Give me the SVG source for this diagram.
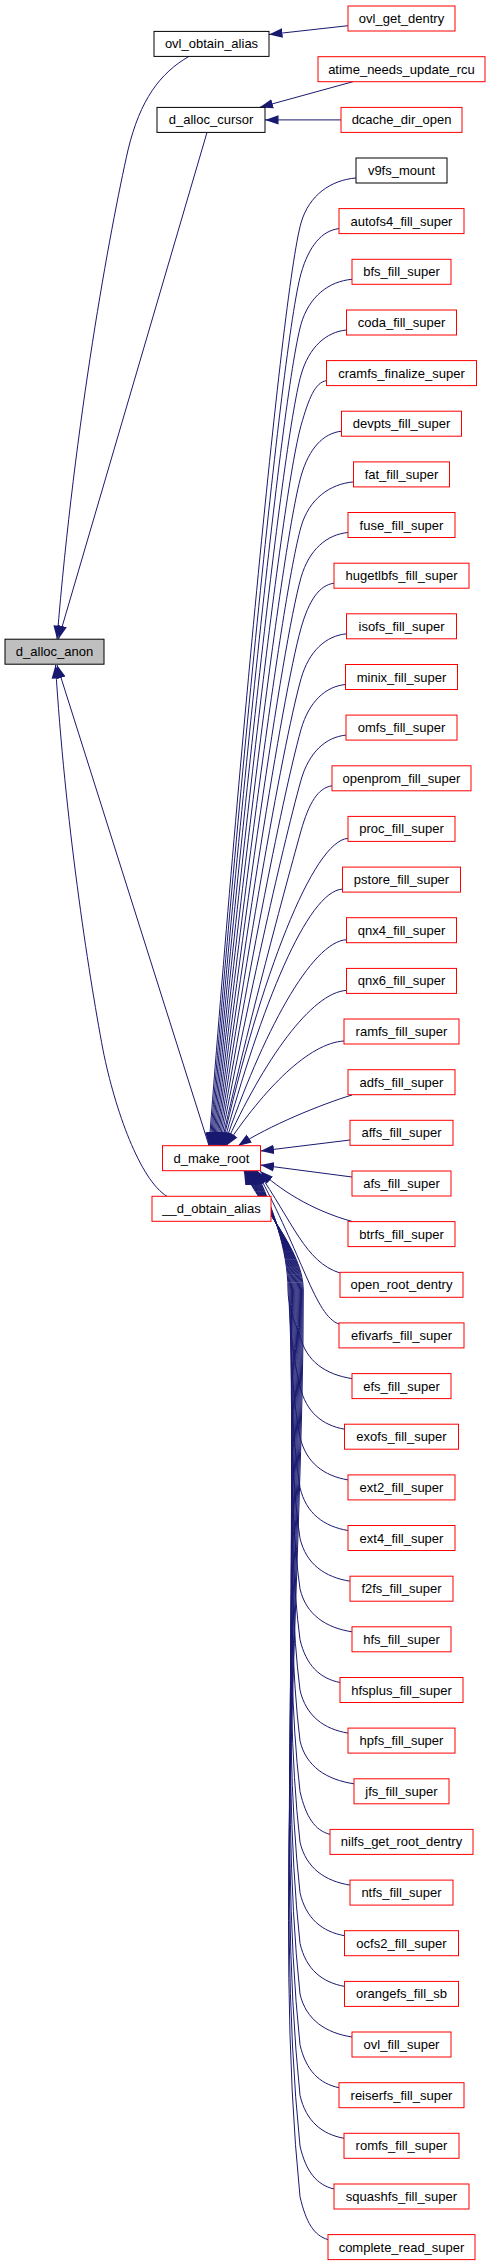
<svg xmlns="http://www.w3.org/2000/svg" width="491" height="2267" viewBox="0 0 491 2267">
<style>
.n rect{fill:#ffffff;stroke:#ff0000;stroke-width:1}
.n.b rect{stroke:#000000}
.n.g rect{fill:#bfbfbf;stroke:#000000}
.n text{font-family:"Liberation Sans",Arial,Helvetica,sans-serif;font-size:13px;fill:#000000;text-anchor:middle}
#edges path{fill:none;stroke:#191970;stroke-width:1;marker-end:url(#ah)}
</style>
<defs>
<marker id="ah" markerUnits="userSpaceOnUse" markerWidth="14" markerHeight="10" viewBox="0 0 14 10" refX="13.5" refY="5" orient="auto"><path d="M0,0.3 L13.5,5 L0,9.7 z" fill="#191970"/></marker>
</defs>
<rect width="491" height="2267" fill="#ffffff"/>
<g id="edges">
<path d="M348,25.7 L269,34.5"/>
<path d="M353,81.7 L259.5,107.4"/>
<path d="M341,119.9 L265,119.9"/>
<path d="M189,56.4 C160,73 140,100 128,150 C110,230 75,420 57,639"/>
<path d="M207,132.4 L58.5,639"/>
<path d="M209,1145.7 L57,665"/>
<path d="M167,1196.3 C140,1180 115,1110 103,1050 C88,970 65,820 55.5,665"/>
<path d="M356,178 C331,180 309,195 301,223 C281,295 233.5,823 209,1146"/>
<path d="M339,228.6 C322,230.6 309,245.6 301,273.6 C281,345.6 234.5,840.7 210,1146"/>
<path d="M352,279.3 C329,281.3 309,296.3 301,324.3 C281,396.3 235.5,858.4 211,1146"/>
<path d="M346.5,330 C326,332 309,347 301,375 C281,447 236.5,876.1 212,1146"/>
<path d="M326.5,380.6 C315,382.6 309,397.6 301,425.6 C281,497.6 237.5,893.9 213,1146"/>
<path d="M341.5,431.2 C323.3,433.2 309,448.2 301,476.2 C281,548.2 238.5,911.6 214,1146"/>
<path d="M353.5,481.9 C329.9,483.9 309,498.9 301,526.9 C281,598.9 239.5,929.3 215,1146"/>
<path d="M348,532.5 C326.9,534.5 309,549.5 301,577.5 C281,649.5 240.5,947 216,1146"/>
<path d="M334,583.2 C319.2,585.2 309,600.2 301,628.2 C281,700.2 241.5,964.8 217,1146"/>
<path d="M346.5,633.8 C326,635.8 309,650.8 301,678.8 C281,750.8 242.5,982.5 218,1146"/>
<path d="M345.5,684.5 C325.5,686.5 309,701.5 301,729.5 C281,801.5 243.5,1000.2 219,1146"/>
<path d="M346,735.1 C325.8,737.1 309,752.1 301,780.1 C281,852.1 244.5,1018 220,1146"/>
<path d="M332,785.8 C318,787.8 309,802.8 301,830.8 C281,902.8 245.5,1035.7 221,1146"/>
<path d="M348,838.4 C313,840.4 260.5,976.8 222,1146"/>
<path d="M342.5,889.1 C307.5,891.1 261.5,1004.7 223,1146"/>
<path d="M346.5,939.7 C311.5,941.7 262.5,1032.6 224,1146"/>
<path d="M346.5,990.4 C311.5,992.4 263.5,1060.4 225,1146"/>
<path d="M344,1041 C309,1043 264.5,1088.3 226,1146"/>
<path d="M352,1095 C322,1104 268,1126 238,1146"/>
<path d="M350,1140 L260.5,1151"/>
<path d="M352,1177 L260.5,1165"/>
<path d="M353,1221.7 C310,1210 278,1188 260,1171"/>
<path d="M340,1273 C305,1262 293,1222 257.3,1171"/>
<path d="M339,1324 C315,1316 302.6,1255 256.6,1171"/>
<path d="M352,1378.6 C326,1374.6 306,1361.6 300,1335.6 C293.9,1321.9 288,1303.7 288,1290 C288,1250 271.9,1206 255.9,1171"/>
<path d="M344.5,1429.2 C322.2,1425.2 306,1412.2 300,1386.2 C292.6,1357.4 288.9,1318.9 288.9,1290 C288.9,1250 271.2,1206 255.2,1171"/>
<path d="M348,1479.9 C324,1475.9 306,1462.9 300,1436.9 C291.3,1392.8 289.8,1334.1 289.8,1290 C289.8,1250 270.5,1206 254.5,1171"/>
<path d="M348,1530.5 C324,1526.5 306,1513.5 300,1487.5 C290.1,1428.3 290.7,1349.3 290.7,1290 C290.7,1250 269.8,1206 253.8,1171"/>
<path d="M350,1581.2 C325,1577.2 306,1564.2 300,1538.2 C288.8,1463.7 291.6,1364.5 291.6,1290 C291.6,1250 269.1,1206 253.1,1171"/>
<path d="M352,1631.8 C326,1627.8 306,1614.8 300,1588.8 C287.5,1499.2 292.5,1379.7 292.5,1290 C292.5,1250 268.4,1206 252.4,1171"/>
<path d="M340,1682.5 C320,1678.5 306,1665.5 300,1639.5 C286.3,1534.6 293.4,1394.8 293.4,1290 C293.4,1250 267.7,1206 251.7,1171"/>
<path d="M348,1733.1 C324,1729.1 306,1716.1 300,1690.1 C285,1570.1 294.3,1410 294.3,1290 C294.3,1250 267,1206 251,1171"/>
<path d="M354,1783.8 C327,1779.8 306,1766.8 300,1740.8 C283.7,1605.6 295.2,1425.2 295.2,1290 C295.2,1250 266.3,1206 250.3,1171"/>
<path d="M330,1834.4 C315,1830.4 306,1817.4 300,1791.4 C282.5,1641 296.1,1440.4 296.1,1290 C296.1,1250 265.6,1206 249.6,1171"/>
<path d="M350,1885.1 C325,1881.1 306,1868.1 300,1842.1 C281.2,1676.5 297,1455.6 297,1290 C297,1250 264.9,1206 248.9,1171"/>
<path d="M344.5,1935.7 C322.2,1931.7 306,1918.7 300,1892.7 C279.9,1711.9 297.9,1470.8 297.9,1290 C297.9,1250 264.2,1206 248.2,1171"/>
<path d="M344.5,1986.4 C322.2,1982.4 306,1969.4 300,1943.4 C278.7,1747.4 298.8,1486 298.8,1290 C298.8,1250 263.5,1206 247.5,1171"/>
<path d="M352,2037 C326,2033 306,2020 300,1994 C277.4,1782.8 299.7,1501.2 299.7,1290 C299.7,1250 262.8,1206 246.8,1171"/>
<path d="M339,2087.7 C319.5,2083.7 306,2070.7 300,2044.7 C276.1,1818.3 300.6,1516.4 300.6,1290 C300.6,1250 262.1,1206 246.1,1171"/>
<path d="M344,2138.3 C322,2134.3 306,2121.3 300,2095.3 C274.9,1853.7 301.5,1531.6 301.5,1290 C301.5,1250 261.4,1206 245.4,1171"/>
<path d="M334,2189 C317,2185 306,2172 300,2146 C273.6,1889.2 302.4,1546.8 302.4,1290 C302.4,1250 260.7,1206 244.7,1171"/>
<path d="M328,2239.6 C314,2235.6 306,2222.6 300,2196.6 C272.3,1924.6 303.3,1562 303.3,1290 C303.3,1250 260,1206 244,1171"/>
</g>
<g id="d_alloc_anon" class="n g"><rect x="5" y="639.2" width="99" height="25"/><text x="54.5" y="656.2">d_alloc_anon</text></g>
<g id="ovl_obtain_alias" class="n b"><rect x="154" y="31.4" width="115" height="25"/><text x="211.5" y="48.4">ovl_obtain_alias</text></g>
<g id="d_alloc_cursor" class="n b"><rect x="157" y="107.4" width="108" height="25"/><text x="211" y="124.4">d_alloc_cursor</text></g>
<g id="d_make_root" class="n"><rect x="162.5" y="1145.7" width="98" height="25"/><text x="211.5" y="1162.7">d_make_root</text></g>
<g id="__d_obtain_alias" class="n"><rect x="152" y="1196.3" width="119" height="25"/><text x="211.5" y="1213.3">__d_obtain_alias</text></g>
<g id="ovl_get_dentry" class="n"><rect x="348" y="6" width="107" height="25"/><text x="401.5" y="23">ovl_get_dentry</text></g>
<g id="atime_needs_update_rcu" class="n"><rect x="318" y="56.7" width="167" height="25"/><text x="401.5" y="73.7">atime_needs_update_rcu</text></g>
<g id="dcache_dir_open" class="n"><rect x="341" y="107.4" width="121" height="25"/><text x="401.5" y="124.4">dcache_dir_open</text></g>
<g id="v9fs_mount" class="n b"><rect x="356" y="158" width="91" height="25"/><text x="401.5" y="175">v9fs_mount</text></g>
<g id="autofs4_fill_super" class="n"><rect x="339" y="208.6" width="125" height="25"/><text x="401.5" y="225.6">autofs4_fill_super</text></g>
<g id="bfs_fill_super" class="n"><rect x="352" y="259.3" width="99" height="25"/><text x="401.5" y="276.3">bfs_fill_super</text></g>
<g id="coda_fill_super" class="n"><rect x="346.5" y="310" width="110" height="25"/><text x="401.5" y="327">coda_fill_super</text></g>
<g id="cramfs_finalize_super" class="n"><rect x="326.5" y="360.6" width="150" height="25"/><text x="401.5" y="377.6">cramfs_finalize_super</text></g>
<g id="devpts_fill_super" class="n"><rect x="341.5" y="411.2" width="120" height="25"/><text x="401.5" y="428.2">devpts_fill_super</text></g>
<g id="fat_fill_super" class="n"><rect x="353.5" y="461.9" width="96" height="25"/><text x="401.5" y="478.9">fat_fill_super</text></g>
<g id="fuse_fill_super" class="n"><rect x="348" y="512.5" width="107" height="25"/><text x="401.5" y="529.5">fuse_fill_super</text></g>
<g id="hugetlbfs_fill_super" class="n"><rect x="334" y="563.2" width="135" height="25"/><text x="401.5" y="580.2">hugetlbfs_fill_super</text></g>
<g id="isofs_fill_super" class="n"><rect x="346.5" y="613.8" width="110" height="25"/><text x="401.5" y="630.8">isofs_fill_super</text></g>
<g id="minix_fill_super" class="n"><rect x="345.5" y="664.5" width="112" height="25"/><text x="401.5" y="681.5">minix_fill_super</text></g>
<g id="omfs_fill_super" class="n"><rect x="346" y="715.1" width="111" height="25"/><text x="401.5" y="732.1">omfs_fill_super</text></g>
<g id="openprom_fill_super" class="n"><rect x="332" y="765.8" width="139" height="25"/><text x="401.5" y="782.8">openprom_fill_super</text></g>
<g id="proc_fill_super" class="n"><rect x="348" y="816.4" width="107" height="25"/><text x="401.5" y="833.4">proc_fill_super</text></g>
<g id="pstore_fill_super" class="n"><rect x="342.5" y="867.1" width="118" height="25"/><text x="401.5" y="884.1">pstore_fill_super</text></g>
<g id="qnx4_fill_super" class="n"><rect x="346.5" y="917.7" width="110" height="25"/><text x="401.5" y="934.7">qnx4_fill_super</text></g>
<g id="qnx6_fill_super" class="n"><rect x="346.5" y="968.4" width="110" height="25"/><text x="401.5" y="985.4">qnx6_fill_super</text></g>
<g id="ramfs_fill_super" class="n"><rect x="344" y="1019" width="115" height="25"/><text x="401.5" y="1036">ramfs_fill_super</text></g>
<g id="adfs_fill_super" class="n"><rect x="348" y="1069.7" width="107" height="25"/><text x="401.5" y="1086.7">adfs_fill_super</text></g>
<g id="affs_fill_super" class="n"><rect x="350" y="1120.3" width="103" height="25"/><text x="401.5" y="1137.3">affs_fill_super</text></g>
<g id="afs_fill_super" class="n"><rect x="352" y="1171" width="99" height="25"/><text x="401.5" y="1188">afs_fill_super</text></g>
<g id="btrfs_fill_super" class="n"><rect x="348" y="1221.6" width="107" height="25"/><text x="401.5" y="1238.6">btrfs_fill_super</text></g>
<g id="open_root_dentry" class="n"><rect x="340" y="1272.3" width="123" height="25"/><text x="401.5" y="1289.3">open_root_dentry</text></g>
<g id="efivarfs_fill_super" class="n"><rect x="339" y="1322.9" width="125" height="25"/><text x="401.5" y="1339.9">efivarfs_fill_super</text></g>
<g id="efs_fill_super" class="n"><rect x="352" y="1373.6" width="99" height="25"/><text x="401.5" y="1390.6">efs_fill_super</text></g>
<g id="exofs_fill_super" class="n"><rect x="344.5" y="1424.2" width="114" height="25"/><text x="401.5" y="1441.2">exofs_fill_super</text></g>
<g id="ext2_fill_super" class="n"><rect x="348" y="1474.9" width="107" height="25"/><text x="401.5" y="1491.9">ext2_fill_super</text></g>
<g id="ext4_fill_super" class="n"><rect x="348" y="1525.5" width="107" height="25"/><text x="401.5" y="1542.5">ext4_fill_super</text></g>
<g id="f2fs_fill_super" class="n"><rect x="350" y="1576.2" width="103" height="25"/><text x="401.5" y="1593.2">f2fs_fill_super</text></g>
<g id="hfs_fill_super" class="n"><rect x="352" y="1626.8" width="99" height="25"/><text x="401.5" y="1643.8">hfs_fill_super</text></g>
<g id="hfsplus_fill_super" class="n"><rect x="340" y="1677.5" width="123" height="25"/><text x="401.5" y="1694.5">hfsplus_fill_super</text></g>
<g id="hpfs_fill_super" class="n"><rect x="348" y="1728.1" width="107" height="25"/><text x="401.5" y="1745.1">hpfs_fill_super</text></g>
<g id="jfs_fill_super" class="n"><rect x="354" y="1778.8" width="95" height="25"/><text x="401.5" y="1795.8">jfs_fill_super</text></g>
<g id="nilfs_get_root_dentry" class="n"><rect x="330" y="1829.4" width="143" height="25"/><text x="401.5" y="1846.4">nilfs_get_root_dentry</text></g>
<g id="ntfs_fill_super" class="n"><rect x="350" y="1880.1" width="103" height="25"/><text x="401.5" y="1897.1">ntfs_fill_super</text></g>
<g id="ocfs2_fill_super" class="n"><rect x="344.5" y="1930.7" width="114" height="25"/><text x="401.5" y="1947.7">ocfs2_fill_super</text></g>
<g id="orangefs_fill_sb" class="n"><rect x="344.5" y="1981.4" width="114" height="25"/><text x="401.5" y="1998.4">orangefs_fill_sb</text></g>
<g id="ovl_fill_super" class="n"><rect x="352" y="2032" width="99" height="25"/><text x="401.5" y="2049">ovl_fill_super</text></g>
<g id="reiserfs_fill_super" class="n"><rect x="339" y="2082.7" width="125" height="25"/><text x="401.5" y="2099.7">reiserfs_fill_super</text></g>
<g id="romfs_fill_super" class="n"><rect x="344" y="2133.3" width="115" height="25"/><text x="401.5" y="2150.3">romfs_fill_super</text></g>
<g id="squashfs_fill_super" class="n"><rect x="334" y="2184" width="135" height="25"/><text x="401.5" y="2201">squashfs_fill_super</text></g>
<g id="complete_read_super" class="n"><rect x="328" y="2234.6" width="147" height="25"/><text x="401.5" y="2251.6">complete_read_super</text></g>
</svg>
